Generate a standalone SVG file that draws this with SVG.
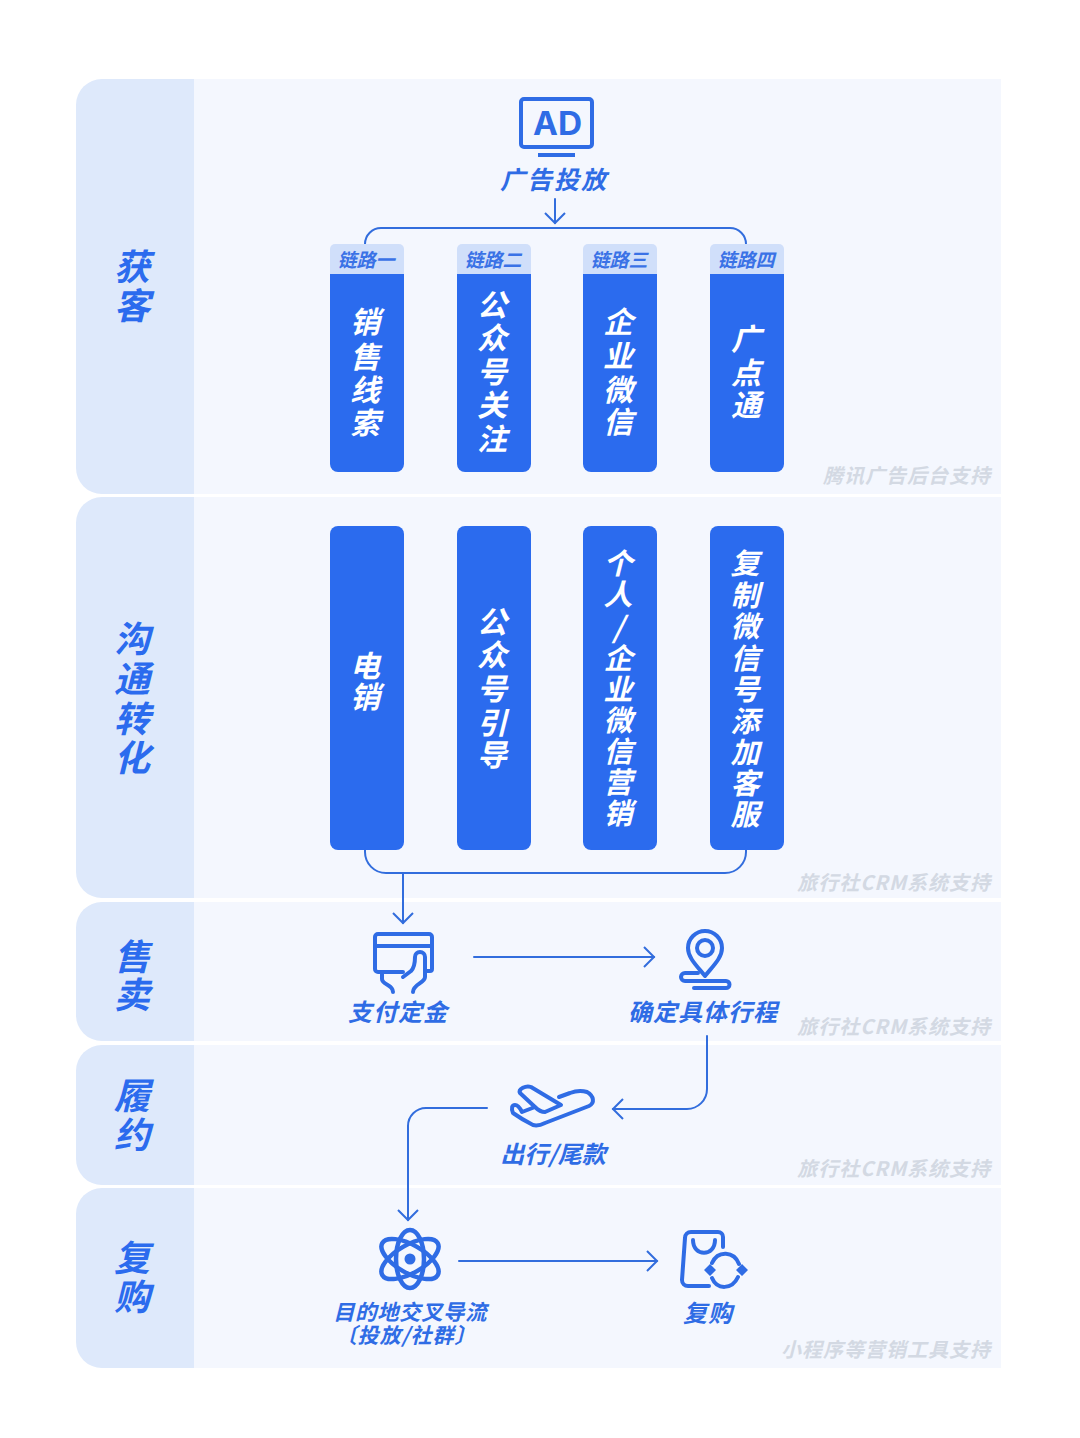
<svg xmlns="http://www.w3.org/2000/svg" width="1080" height="1438" viewBox="0 0 1080 1438">
<defs><style>
text{font-family:"Noto Sans CJK SC","Noto Sans",sans-serif;font-weight:700;font-style:italic;text-anchor:middle}
.band{fill:#f4f7fe}.side{fill:#dee9fb}
.bar{fill:#2b6bee}.chip{fill:#d0dffa}
.lane{font-size:36px;fill:#2b6bee}
.v{font-size:30px;fill:#fff}.v2{font-size:29px;fill:#fff}
.c{font-size:19px;fill:#3a72e6}
.l{font-size:24px;fill:#2f6ce5;letter-spacing:1px}
.f{font-size:20px;fill:#d3d9e3;text-anchor:end;letter-spacing:1px}
.ln{fill:none;stroke:#326ddd;stroke-width:2;stroke-linecap:round;stroke-linejoin:round}
.ic{fill:none;stroke:#2f6ce5;stroke-width:4;stroke-linecap:round;stroke-linejoin:round}
</style>
<marker id="a" markerUnits="userSpaceOnUse" markerWidth="24" markerHeight="24" refX="13" refY="12" orient="auto"><path d="M3 2L13 12L3 22" fill="none" stroke="#326ddd" stroke-width="2"/></marker>
</defs>
<rect width="1080" height="1438" fill="#fff"/>
<g id="lane-acquire"><rect class="band" x="100" y="79" width="901" height="415"/><path class="side" d="M194 79H102a26 26 0 0 0-26 26V468a26 26 0 0 0 26 26H194Z"/><text class="lane" x="132 132" y="280 319">获客</text><text class="f" x="991" y="483">腾讯广告后台支持</text></g>
<g id="lane-convert"><rect class="band" x="100" y="497" width="901" height="401"/><path class="side" d="M194 497H102a26 26 0 0 0-26 26V872a26 26 0 0 0 26 26H194Z"/><text class="lane" x="132 132 132 132" y="652 692 732 771">沟通转化</text><text class="f" x="991" y="890">旅行社CRM系统支持</text></g>
<g id="lane-sell"><rect class="band" x="100" y="902" width="901" height="139"/><path class="side" d="M194 902H102a26 26 0 0 0-26 26V1015a26 26 0 0 0 26 26H194Z"/><text class="lane" x="132 132" y="970 1008">售卖</text><text class="f" x="991" y="1034">旅行社CRM系统支持</text></g>
<g id="lane-fulfil"><rect class="band" x="100" y="1045" width="901" height="140"/><path class="side" d="M194 1045H102a26 26 0 0 0-26 26V1159a26 26 0 0 0 26 26H194Z"/><text class="lane" x="132 132" y="1109 1148">履约</text><text class="f" x="991" y="1176">旅行社CRM系统支持</text></g>
<g id="lane-repurchase"><rect class="band" x="100" y="1188" width="901" height="180"/><path class="side" d="M194 1188H102a26 26 0 0 0-26 26V1342a26 26 0 0 0 26 26H194Z"/><text class="lane" x="132 132" y="1271 1310">复购</text><text class="f" x="991" y="1357">小程序等营销工具支持</text></g>

<g id="connectors">
<path class="ln" d="M555 199V223" marker-end="url(#a)"/>
<path class="ln" d="M365 244a16 16 0 0 1 16-16H730a16 16 0 0 1 16 16"/>
<path class="ln" d="M365 850V852a21 21 0 0 0 21 21H725a21 21 0 0 0 21-21V850"/>
<path class="ln" d="M403 873V923" marker-end="url(#a)"/>
<path class="ln" d="M474 957H654" marker-end="url(#a)"/>
<path class="ln" d="M707 1036V1089a20 20 0 0 1-20 20H613" marker-end="url(#a)"/>
<path class="ln" d="M487 1108H426a18 18 0 0 0-18 18V1220" marker-end="url(#a)"/>
<path class="ln" d="M459 1261H657" marker-end="url(#a)"/>
</g>

<g id="node-ad"><rect x="521" y="99" width="71" height="48" rx="3" fill="none" stroke="#2f6ce5" stroke-width="4"/><rect x="538" y="153" width="37" height="4" fill="#2f6ce5"/><text x="533" y="135" textLength="49" lengthAdjust="spacingAndGlyphs" style="font-family:Inter,'Liberation Sans',sans-serif;font-size:32px;font-style:normal;fill:#2f6ce5;text-anchor:start">AD</text><text class="l" x="554" y="189" style="font-size:25px;letter-spacing:2px">广告投放</text></g>

<g id="chain-1"><path class="chip" d="M330 274V249a5 5 0 0 1 5-5H399a5 5 0 0 1 5 5V274Z"/><path class="bar" d="M330 274H404V464a8 8 0 0 1-8 8H338a8 8 0 0 1-8-8Z"/><text class="c" x="366" y="267">链路一</text><text class="v" x="365 365 365 365" y="333 368 401 434">销售线索</text></g>
<g id="chain-2"><path class="chip" d="M457 274V249a5 5 0 0 1 5-5H526a5 5 0 0 1 5 5V274Z"/><path class="bar" d="M457 274H531V464a8 8 0 0 1-8 8H465a8 8 0 0 1-8-8Z"/><text class="c" x="493" y="267">链路二</text><text class="v" x="492 492 492 492 492" y="316 349 383 416 450">公众号关注</text></g>
<g id="chain-3"><path class="chip" d="M583 274V249a5 5 0 0 1 5-5H652a5 5 0 0 1 5 5V274Z"/><path class="bar" d="M583 274H657V464a8 8 0 0 1-8 8H591a8 8 0 0 1-8-8Z"/><text class="c" x="619" y="267">链路三</text><text class="v" x="618 618 618 618" y="333 367 401 433">企业微信</text></g>
<g id="chain-4"><path class="chip" d="M710 274V249a5 5 0 0 1 5-5H779a5 5 0 0 1 5 5V274Z"/><path class="bar" d="M710 274H784V464a8 8 0 0 1-8 8H718a8 8 0 0 1-8-8Z"/><text class="c" x="746" y="267">链路四</text><text class="v" x="746 746 746" y="350 384 416">广点通</text></g>

<g id="conv-1"><rect class="bar" x="330" y="526" width="74" height="324" rx="8"/><text class="v" x="365 365" y="677 708">电销</text></g>
<g id="conv-2"><rect class="bar" x="457" y="526" width="74" height="324" rx="8"/><text class="v" x="492 492 492 492 492" y="633 666 700 734 766">公众号引导</text></g>
<g id="conv-3"><rect class="bar" x="583" y="526" width="74" height="324" rx="8"/><text class="v2" x="618 618 618 618 618 618 618 618 618" y="574 605 638 669 700 731 762 793 824">个人/企业微信营销</text></g>
<g id="conv-4"><rect class="bar" x="710" y="526" width="74" height="324" rx="8"/><text class="v2" x="745 745 745 745 745 745 745 745 745" y="574 606 637 669 700 732 763 794 825">复制微信号添加客服</text></g>

<g id="node-pay"><g class="ic"><path d="M403 972H378a3 3 0 0 1-3-3V937a3 3 0 0 1 3-3H429a3 3 0 0 1 3 3V969a2 2 0 0 1-2 2H426M375 946H432"/><path d="M382 972V979C382 985 393 984 393 992M403 977L411 971C414 968 415 963 415 957a5 5 0 0 1 10 0V977C425 983 413 984 413 992"/></g>
<text class="l" x="398" y="1021">支付定金</text></g>
<g id="node-route"><g class="ic"><path d="M705 976C697 966 688 958 688 948a17 17 0 0 1 34 0C722 958 713 966 705 976Z"/><circle cx="705" cy="948" r="8"/><path d="M698 973H685a4 4 0 0 0 0 8H726a3.500 3.500 0 0 1 0 7H694"/></g>
<text class="l" x="703" y="1021">确定具体行程</text></g>
<g id="node-travel"><g class="ic"><path d="M513 1113C520 1118 527 1122 533 1125C537 1126 541 1125 545 1123L589 1106C595 1103 594 1096 587 1092C581 1090 575 1091 570 1093L559 1097M513 1113C511 1108 512 1105 515 1105C518 1105 520 1108 522 1112L535 1107M520 1093C518 1089 526 1085 531 1087L561 1105L545 1112C541 1112 538 1110 535 1107Z"/></g>
<text class="l" x="553" y="1163" style="letter-spacing:0">出行/尾款</text></g>
<g id="node-cross"><g class="ic"><ellipse cx="410" cy="1259" rx="14" ry="29" stroke-width="4.500"/><ellipse cx="410" cy="1259" rx="14" ry="32" transform="rotate(60 410 1259)" stroke-width="4.500"/><ellipse cx="410" cy="1259" rx="14" ry="32" transform="rotate(-60 410 1259)" stroke-width="4.500"/><circle cx="410" cy="1259" r="5.500" fill="#2f6ce5" stroke="none"/></g>
<text class="l" x="410" y="1320" style="font-size:21.500px;letter-spacing:0.500px">目的地交叉导流</text>
<text class="l" x="406" y="1343" style="font-size:21px;letter-spacing:1px">〔投放/社群〕</text></g>
<g id="node-repurchase"><g class="ic"><path d="M709 1286H688a6 6 0 0 1-6-6L685 1238a6 6 0 0 1 6-6H718a5 5 0 0 1 5 5V1247M693 1240C693 1257 715 1257 715 1240"/><path d="M712 1263C718 1250 734 1251 739 1264M738 1277C732 1290 717 1290 712 1278"/><path d="M704 1270L710 1264L716 1270L710 1276ZM736 1270L742 1264L748 1270L742 1276Z" fill="#2f6ce5" stroke="none"/></g>
<text class="l" x="708" y="1322">复购</text></g>
</svg>
